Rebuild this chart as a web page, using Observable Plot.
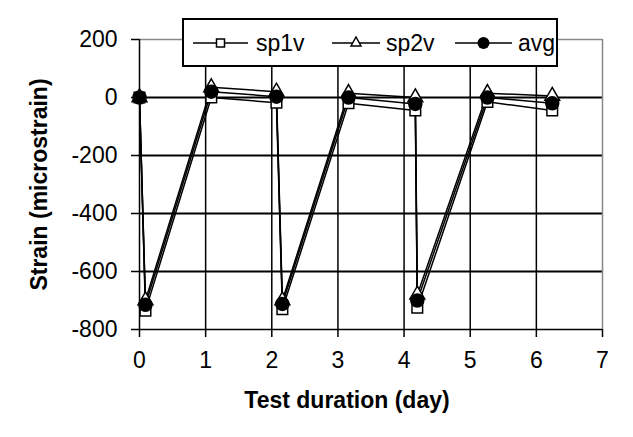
<!DOCTYPE html>
<html><head><meta charset="utf-8">
<script src="https://cdn.jsdelivr.net/npm/d3@7"></script>
<script src="https://cdn.jsdelivr.net/npm/@observablehq/plot@0.6"></script>
<style>
body{margin:0;background:#fff;}
#wrap{position:relative;width:633px;height:437px;overflow:hidden;}
#wrap svg{display:block;}
#legend{position:absolute;left:0;top:0;pointer-events:none;}
</style></head><body><div id="wrap"></div>
<script>
const xTicks = [0, 1, 2, 3, 4, 5, 6, 7];
const yTicks = [-800, -600, -400, -200, 0, 200];
const seriesNames = ["sp1v", "sp2v", "avg"];
const days = [0, 0.09, 1.085, 2.07, 2.16, 3.16, 4.17, 4.2, 5.26, 6.24];
const sp1v = [0, -735, 0, -18, -730, -20, -45, -725, -15, -45];
const sp2v = [0, -700, 35, 20, -700, 15, 0, -680, 15, 5];
const avg  = [0, -715, 20, 3, -712, 0, -22, -700, 0, -20];
const xTitle = "Test duration (day)";
const yTitle = "Strain (microstrain)";

const seriesValues = {sp1v, sp2v, avg};
const rows = seriesNames.flatMap(s => days.map((d, i) => ({day: d, strain: seriesValues[s][i], s})));
const font = "'Liberation Sans', Arial, sans-serif";
const fmt = d => String(d);

const chart = Plot.plot({
  width: 633, height: 437,
  marginLeft: 139, marginRight: 31, marginTop: 39, marginBottom: 108,
  x: {domain: [0, 7]},
  y: {domain: [-800, 200]},
  style: {fontFamily: font, fontSize: "23px", color: "#000", background: "#fff"},
  marks: [
    Plot.ruleY(yTicks.filter(v => v > -800 && v < 200), {stroke: "#000", strokeWidth: 2}),
    Plot.ruleX(xTicks.filter(v => v > 0 && v < 7), {stroke: "#000", strokeWidth: 1.5}),
    Plot.ruleY([200], {stroke: "#888", strokeWidth: 1.5}),
    Plot.ruleX([7], {stroke: "#888", strokeWidth: 1.5}),
    Plot.ruleX([0], {stroke: "#000", strokeWidth: 1.5}),
    Plot.ruleY([-800], {stroke: "#000", strokeWidth: 1.5}),
    Plot.axisY({ticks: yTicks, tickFormat: fmt, tickSize: 8, tickPadding: 14, label: null, fontSize: 23, strokeWidth: 1.5, fill: "#000"}),
    Plot.axisX({ticks: xTicks, tickFormat: fmt, tickSize: 8, tickPadding: 14, label: null, fontSize: 23, strokeWidth: 1.5, fill: "#000"}),
    Plot.text([xTitle], {frameAnchor: "bottom", textAnchor: "middle", dy: 78, dx: -24, fontWeight: "bold", fontSize: 23, fill: "#000"}),
    Plot.text([yTitle], {frameAnchor: "left", textAnchor: "middle", dx: -100, rotate: -90, fontWeight: "bold", fontSize: 23, fill: "#000"}),
    Plot.line(rows, {x: "day", y: "strain", z: "s", stroke: "#000", strokeWidth: 1.5}),
    Plot.dot(rows.filter(d => d.s === "sp1v"), {x: "day", y: "strain", symbol: "square", r: 6, fill: "#fff", stroke: "#000", strokeWidth: 1.5}),
    Plot.dot(rows.filter(d => d.s === "sp2v"), {x: "day", y: "strain", symbol: "triangle", r: 5.5, fill: "#fff", stroke: "#000", strokeWidth: 1.5}),
    Plot.dot(rows.filter(d => d.s === "avg"), {x: "day", y: "strain", symbol: "circle", r: 6.5, fill: "#000", stroke: "#000"})
  ]
});
const wrap = document.getElementById("wrap");
wrap.appendChild(chart);

// legend overlay
const lg = d3.select(wrap).append("svg").attr("id", "legend").attr("width", 633).attr("height", 437);
lg.append("rect").attr("x", 183).attr("y", 19).attr("width", 374).attr("height", 47)
  .attr("fill", "#fff").attr("stroke", "#000").attr("stroke-width", 2);
const items = [
  {name: seriesNames[0], x0: 193, x1: 248, tx: 256, sym: "square"},
  {name: seriesNames[1], x0: 332, x1: 380, tx: 386, sym: "triangle"},
  {name: seriesNames[2], x0: 455, x1: 512, tx: 518, sym: "circle"}
];
const cy = 43;
for (const it of items) {
  lg.append("line").attr("x1", it.x0).attr("x2", it.x1).attr("y1", cy).attr("y2", cy).attr("stroke", "#000").attr("stroke-width", 1.5);
  const mx = (it.x0 + it.x1) / 2;
  if (it.sym === "square") {
    lg.append("rect").attr("x", mx - 4).attr("y", cy - 4).attr("width", 8).attr("height", 8).attr("fill", "#fff").attr("stroke", "#000").attr("stroke-width", 1.5);
  } else if (it.sym === "triangle") {
    lg.append("path").attr("d", `M${mx},${cy - 6}L${mx + 5},${cy + 3}L${mx - 5},${cy + 3}Z`).attr("fill", "#fff").attr("stroke", "#000").attr("stroke-width", 1.5);
  } else {
    lg.append("circle").attr("cx", mx).attr("cy", cy).attr("r", 6).attr("fill", "#000");
  }
  lg.append("text").attr("x", it.tx).attr("y", cy).attr("dy", "0.35em").attr("font-family", font).attr("font-size", 23).attr("fill", "#000").text(it.name);
}
</script></body></html>
